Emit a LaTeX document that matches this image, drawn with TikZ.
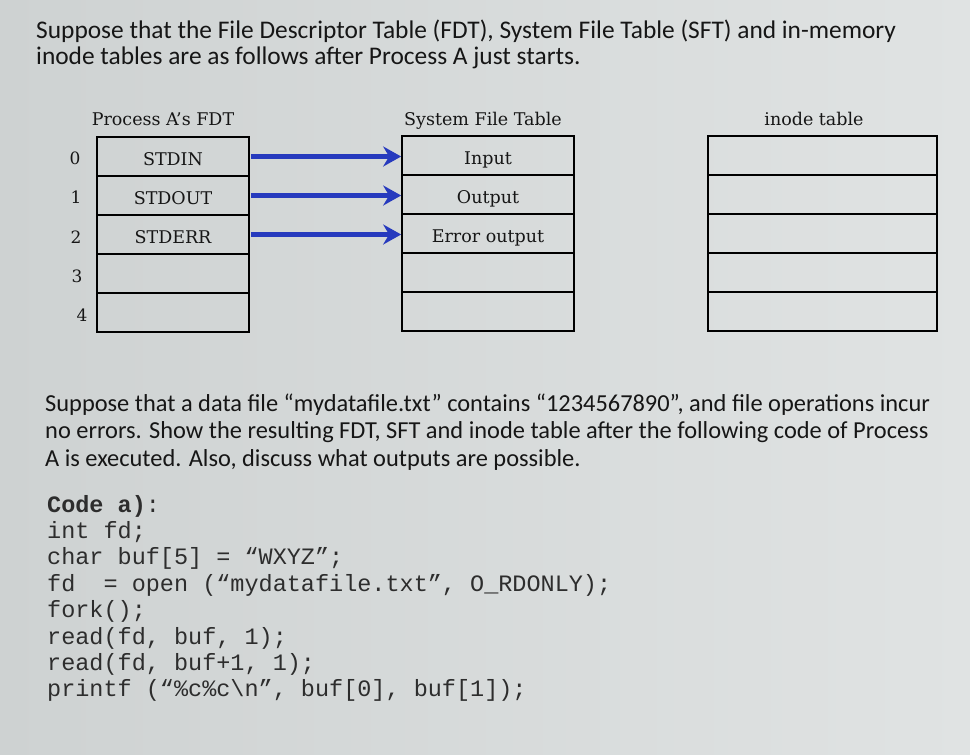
\documentclass[tikz,border=0pt]{standalone}
\usepackage{fontspec}
\setmainfont{Carlito}
\newfontfamily\cellfont{DejaVu Serif}
\newfontfamily\codefont{Liberation Mono}
\usetikzlibrary{arrows.meta}
\definecolor{bgL}{RGB}{206,210,210}
\definecolor{bgR}{RGB}{224,227,227}
\definecolor{arrowblue}{RGB}{38,58,190}
\definecolor{ink}{RGB}{22,22,22}
\definecolor{codeink}{RGB}{45,45,45}
\tikzset{
  para/.style={anchor=base west, inner sep=0pt, text=ink},
  titlefont/.style={para, font=\fontsize{25.4}{28}\selectfont},
  bodyfont/.style={para, font=\fontsize{24.4}{28}\selectfont},
  codeline/.style={anchor=base west, inner sep=0pt, text=codeink, font=\codefont\fontsize{23.5}{26}\selectfont},
  head/.style={anchor=base, inner sep=0pt, text=ink, font=\cellfont\fontsize{17.5}{21}\selectfont},
  idx/.style={inner sep=0pt, text=ink, font=\cellfont\fontsize{17}{21}\selectfont},
  cell/.style={draw=black, line width=1.7pt, minimum height=39pt, inner sep=0pt,
    text height=17pt, text depth=0pt, text=ink, font=\cellfont\fontsize{17.5}{21}\selectfont},
  fdtcell/.style={cell, minimum width=152pt},
  sftcell/.style={cell, minimum width=172pt},
  inocell/.style={cell, minimum width=229pt},
  ptr/.style={draw=arrowblue, line width=4.4pt, -{Stealth[length=18pt,width=20pt,inset=6pt]}, shorten <=1pt, shorten >=0pt}
}
\begin{document}
\begin{tikzpicture}[x=1pt,y=-1pt]
\shade[left color=bgL,right color=bgR] (0,0) rectangle (970,755);
\useasboundingbox (0,0) rectangle (970,755);

% title
\node[titlefont] (t1) at (36,38) {Suppose that the File Descriptor Table (FDT), System File Table (SFT) and in-memory};
\node[titlefont] (t2) at (36,64) {inode tables are as follows after Process A just starts.};

% headers
\node[head] (hfdt) at (163,125) {Process A’s FDT};
\node[head] (hsft) at (483,125) {System File Table};
\node[head] (hino) at (814,125) {inode table};

% FDT
\node[fdtcell] (f0) at (173,156.5) {STDIN};
\node[fdtcell] (f1) at (173,195.5) {STDOUT};
\node[fdtcell] (f2) at (173,234.5) {STDERR};
\node[fdtcell] (f3) at (173,273.5) {};
\node[fdtcell] (f4) at (173,312.5) {};

% indices
\node[idx] (i0) at (75,158) {0};
\node[idx] (i1) at (76,197) {1};
\node[idx] (i2) at (76,237) {2};
\node[idx] (i3) at (77,276) {3};
\node[idx] (i4) at (82,315) {4};

% SFT
\node[sftcell] (s0) at (488,155.5) {Input};
\node[sftcell] (s1) at (488,194.5) {Output};
\node[sftcell] (s2) at (488,233.5) {Error output};
\node[sftcell] (s3) at (488,272.5) {};
\node[sftcell] (s4) at (488,311.5) {};

% inode
\node[inocell] (n0) at (822.5,155.5) {};
\node[inocell] (n1) at (822.5,194.5) {};
\node[inocell] (n2) at (822.5,233.5) {};
\node[inocell] (n3) at (822.5,272.5) {};
\node[inocell] (n4) at (822.5,311.5) {};

% pointers
\draw[ptr] (f0.east) -- (f0.east -| s0.west);
\draw[ptr] (f1.east) -- (f1.east -| s1.west);
\draw[ptr] (f2.east) -- (f2.east -| s2.west);

% second paragraph
\node[bodyfont] (p1) at (45,411) {Suppose that a data file “mydatafile.txt” contains “1234567890”, and file operations incur};
\node[bodyfont] (p2) at (45,438) {no errors. Show the resulting FDT, SFT and inode table after the following code of Process};
\node[bodyfont] (p3) at (45,466) {A is executed. Also, discuss what outputs are possible.};

% code
\node[codeline] (c0) at (47,512) {\textbf{Code a)}:};
\node[codeline] (c1) at (47,538.4) {int fd;};
\node[codeline] (c2) at (47,564.8) {char buf[5] = “WXYZ”;};
\node[codeline] (c3) at (47,591.2) {fd\ \ = open (“mydatafile.txt”, O\_RDONLY);};
\node[codeline] (c4) at (47,617.6) {fork();};
\node[codeline] (c5) at (47,644) {read(fd, buf, 1);};
\node[codeline] (c6) at (47,670.4) {read(fd, buf+1, 1);};
\node[codeline] (c7) at (47,696.8) {printf (“\%c\%c\textbackslash n”, buf[0], buf[1]);};
\end{tikzpicture}
\end{document}
